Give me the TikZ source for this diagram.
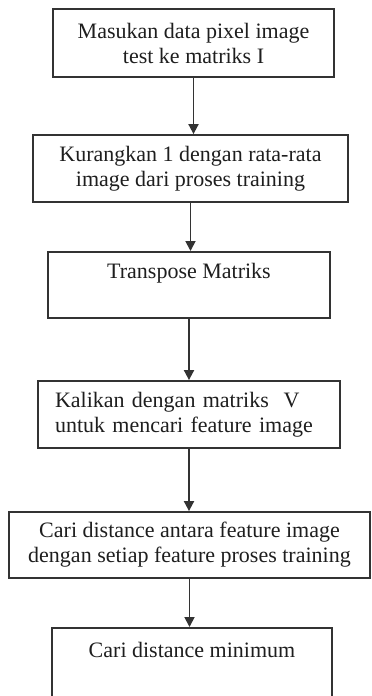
\documentclass[tikz,border=0pt]{standalone}
\usepackage{fontspec}
\setmainfont{Liberation Serif}
\usetikzlibrary{arrows.meta}
\definecolor{boxline}{HTML}{333333}
\definecolor{ink}{HTML}{1E1E1E}
\begin{document}
\begin{tikzpicture}[x=1pt,y=-1pt,
  stepbox/.style={draw=boxline, line width=1.8pt, inner sep=0pt, text=ink,
    font=\fontsize{22}{25}\selectfont},
  flow/.style={draw=boxline, line width=1.8pt,
    -{Triangle[length=10pt,width=10pt]}}]
  \useasboundingbox (0,0) rectangle (372,696);
  \clip (0,0) rectangle (372,696);

  % process steps, top to bottom
  \node[stepbox, align=center, minimum width=281pt, minimum height=68pt]
    (b1) at (193.5,43) {Masukan data pixel image\\test ke matriks I};
  \node[stepbox, align=center, minimum width=315pt, minimum height=67pt]
    (b2) at (190.5,168.5) {Kurangkan 1 dengan rata-rata\\image dari proses training};
  \node[stepbox, anchor=north, minimum width=282pt, text height=27pt, text depth=39pt]
    (b3) at (189,251) {Transpose Matriks};
  \node[stepbox, align=left, text width=268pt, inner xsep=17pt, minimum height=67pt]
    (b4) at (189,414.5) {Kalikan dengan matriks~~V\\untuk mencari feature image};
  \node[stepbox, align=center, minimum width=361pt, minimum height=66pt]
    (b5) at (189.5,545) {Cari distance antara feature image\\dengan setiap feature proses training};
  \node[stepbox, anchor=north, minimum width=280pt, text height=30pt, text depth=49pt]
    (b6) at (192,627) {Cari distance minimum};

  % connectors
  \draw[flow] (b1.south) -- (b1.south |- b2.north);
  \draw[flow] (b2.south) -- (b2.south |- b3.north);
  \draw[flow] (b3.south) -- (b3.south |- b4.north);
  \draw[flow] (b4.south) -- (b4.south |- b5.north);
  \draw[flow] (b5.south) -- (b5.south |- b6.north);
\end{tikzpicture}
\end{document}
